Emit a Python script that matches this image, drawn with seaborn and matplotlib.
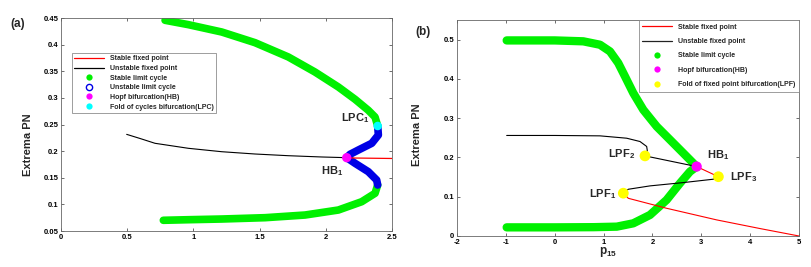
import numpy as np
import pandas as pd
import matplotlib
matplotlib.use("Agg")
import matplotlib.pyplot as plt
import seaborn as sns
from matplotlib.lines import Line2D

# ---------------- Panel (a) data ----------------
a_green_up_x = [0.786, 0.962, 1.214, 1.465, 1.717, 1.918, 2.095, 2.221, 2.321, 2.372, 2.392]
a_green_up_y = [0.4457, 0.4375, 0.4237, 0.4037, 0.3768, 0.3486, 0.3204, 0.2973, 0.2767, 0.264, 0.2472]
a_green_lo_x = [0.773, 0.962, 1.214, 1.541, 1.843, 2.095, 2.271, 2.372, 2.392]
a_green_lo_y = [0.0701, 0.0712, 0.0725, 0.075, 0.080, 0.0894, 0.105, 0.1208, 0.1364]
a_blue_up_x = [2.158, 2.183, 2.246, 2.347, 2.397, 2.392]
a_blue_up_y = [0.1877, 0.194, 0.2021, 0.2147, 0.2303, 0.2472]
a_blue_lo_x = [2.158, 2.221, 2.321, 2.384, 2.392]
a_blue_lo_y = [0.1877, 0.1771, 0.1614, 0.1458, 0.1364]
a_unst_x = [0.496, 0.60, 0.71, 0.962, 1.214, 1.465, 1.717, 1.969, 2.158]
a_unst_y = [0.2315, 0.2235, 0.2147, 0.2053, 0.1989, 0.1946, 0.1914, 0.189, 0.1877]
a_stab_x = [2.158, 2.5]
a_stab_y = [0.1872, 0.1862]
a_hb = (2.158, 0.1877)
a_lpc = (2.392, 0.2472)

# ---------------- Panel (b) data ----------------
b_green_up_x = [-0.983, 0.0, 0.585, 0.927, 1.131, 1.30, 1.438, 1.608, 1.813, 2.087, 2.36, 2.632, 2.836, 2.905]
b_green_up_y = [0.498, 0.498, 0.4957, 0.487, 0.470, 0.4405, 0.4065, 0.364, 0.3214, 0.279, 0.245, 0.211, 0.1854, 0.1768]
b_green_lo_x = [-0.983, 0.0, 0.80, 1.27, 1.608, 1.95, 2.29, 2.564, 2.769, 2.905]
b_green_lo_y = [0.022, 0.022, 0.0225, 0.0238, 0.0323, 0.0536, 0.0918, 0.1344, 0.164, 0.1768]
b_unst1_x = [-0.983, 0.0, 0.927, 1.473, 1.745, 1.882, 1.895, 1.848]
b_unst1_y = [0.256, 0.256, 0.255, 0.249, 0.2406, 0.228, 0.2177, 0.204]
b_unst2_x = [1.848, 2.905]
b_unst2_y = [0.204, 0.1768]
b_stab1_x = [2.905, 3.35]
b_stab1_y = [0.1768, 0.151]
b_unst3_x = [3.35, 3.246, 2.632, 1.95, 1.506, 1.404]
b_unst3_y = [0.151, 0.1446, 0.136, 0.1276, 0.119, 0.109]
b_stab2_x = [1.404, 1.506, 2.29, 3.315, 4.2, 5.0]
b_stab2_y = [0.109, 0.096, 0.0706, 0.041, 0.019, 0.0]
b_hb = (2.905, 0.1768)
b_lpf_x = [1.404, 1.848, 3.35]
b_lpf_y = [0.109, 0.204, 0.151]

GREEN = "#00f000"
BLUE = "#0000e6"
MAG = "#ff00ff"
CYAN = "#00ffff"
YEL = "#ffff00"
RED = "#ff0000"

sns.set_style("ticks")
plt.rcParams["font.family"] = ["Liberation Sans", "DejaVu Sans"]
plt.rcParams["font.weight"] = "bold"
plt.rcParams["mathtext.fontset"] = "custom"
plt.rcParams["mathtext.rm"] = "Liberation Sans"
plt.rcParams["mathtext.bf"] = "Liberation Sans:bold"
plt.rcParams["mathtext.it"] = "Liberation Sans:italic"

fig = plt.figure(figsize=(8.12, 2.67), dpi=100)
axa = fig.add_axes([61/812, 1-231/267, 331/812, 213/267])
axb = fig.add_axes([457/812, 1-236/267, 342/812, 216/267])


def line(ax, xs, ys, color, lw, z=2):
    df = pd.DataFrame({"x": xs, "y": ys})
    sns.lineplot(data=df, x="x", y="y", sort=False, estimator=None, ax=ax,
                 color=color, linewidth=lw, zorder=z, solid_capstyle="round",
                 solid_joinstyle="round")


def style(ax):
    for s in ax.spines.values():
        s.set_color("#666666")
        s.set_linewidth(0.6)
    ax.tick_params(direction="in", top=True, right=True, length=2.5, width=0.5,
                   labelsize=5.5, pad=2, colors="#333333", labelcolor="black")
    for lab in ax.get_xticklabels() + ax.get_yticklabels():
        lab.set_fontweight("bold")
    ax.set_xlabel("")
    ax.set_ylabel("")

# ---------- (a) ----------
line(axa, a_green_up_x, a_green_up_y, GREEN, 5.5)
line(axa, a_green_lo_x, a_green_lo_y, GREEN, 5.5)
line(axa, a_blue_up_x, a_blue_up_y, BLUE, 5.5)
line(axa, a_blue_lo_x, a_blue_lo_y, BLUE, 5.5)
line(axa, a_unst_x, a_unst_y, "black", 0.8)
line(axa, a_stab_x, a_stab_y, RED, 0.9)
sns.scatterplot(x=[a_hb[0]], y=[a_hb[1]], ax=axa, color=MAG, s=45, edgecolor="none", zorder=5)
sns.scatterplot(x=[a_lpc[0]], y=[a_lpc[1]], ax=axa, color=CYAN, s=38, edgecolor="none", zorder=5)
axa.set_xlim(0, 2.5)
axa.set_ylim(0.05, 0.45)
axa.set_xticks([0, 0.5, 1, 1.5, 2, 2.5])
axa.set_xticklabels(["0", "0.5", "1", "1.5", "2", "2.5"])
axa.set_yticks([0.05, 0.1, 0.15, 0.2, 0.25, 0.3, 0.35, 0.4, 0.45])
axa.set_yticklabels(["0.05", "0.1", "0.15", "0.2", "0.25", "0.3", "0.35", "0.4", "0.45"])
style(axa)
axa.text(2.22, 0.262, r"$\mathbf{LPC_1}$", fontsize=8, ha="center", va="center")
axa.text(2.05, 0.163, r"$\mathbf{HB_1}$", fontsize=8, ha="center", va="center")
fig.text(28/812, 1-145/267, "Extrema PN", rotation=90, fontsize=8, fontweight="bold",
         ha="center", va="center")
fig.text(18/812, 1-24/267, "(a)", fontsize=8.5, fontweight="bold", ha="center", va="center")

handles_a = [
    Line2D([], [], color=RED, lw=0.9),
    Line2D([], [], color="black", lw=0.9),
    Line2D([], [], color=GREEN, marker="o", ls="none", ms=4.5, mec="none"),
    Line2D([], [], color=BLUE, marker="o", ls="none", ms=4.5, mfc="white", mew=1.0),
    Line2D([], [], color=MAG, marker="o", ls="none", ms=4.5, mec="none"),
    Line2D([], [], color=CYAN, marker="o", ls="none", ms=4.5, mec="none"),
]
labels_a = ["Stable fixed point", "Unstable fixed point", "Stable limit cycle",
            "Unstable limit cycle", "Hopf bifurcation(HB)", "Fold of cycles bifurcation(LPC)"]
leg = axa.legend(handles_a, labels_a, loc="upper left", bbox_to_anchor=(0.033, 0.836),
                 borderaxespad=0, prop={"weight": "bold", "size": 5},
                 frameon=True, fancybox=False, edgecolor="#777777", framealpha=1,
                 handlelength=4.3, labelspacing=0.38, borderpad=0.35, handletextpad=0.8)
leg.get_frame().set_linewidth(0.5)

# ---------- (b) ----------
line(axb, b_green_up_x, b_green_up_y, GREEN, 6)
line(axb, b_green_lo_x, b_green_lo_y, GREEN, 6)
line(axb, b_unst1_x, b_unst1_y, "black", 0.8, 3)
line(axb, b_unst2_x, b_unst2_y, "black", 0.8, 3)
line(axb, b_unst3_x, b_unst3_y, "black", 0.8, 3)
line(axb, b_stab1_x, b_stab1_y, RED, 0.8, 3)
line(axb, b_stab2_x, b_stab2_y, RED, 0.8, 3)
sns.scatterplot(x=[b_hb[0]], y=[b_hb[1]], ax=axb, color=MAG, s=55, edgecolor="none", zorder=5)
sns.scatterplot(x=b_lpf_x, y=b_lpf_y, ax=axb, color=YEL, s=60, edgecolor="none", zorder=5)
axb.set_xlim(-2, 5)
axb.set_ylim(0, 0.55)
axb.set_xticks(list(range(-2, 6)))
axb.set_xticklabels([str(v) for v in range(-2, 6)])
axb.set_yticks([0, 0.1, 0.2, 0.3, 0.4, 0.5])
axb.set_yticklabels(["0", "0.1", "0.2", "0.3", "0.4", "0.5"])
style(axb)
axb.text(1.36, 0.208, r"$\mathbf{LPF_2}$", fontsize=8, ha="center", va="center")
axb.text(3.35, 0.205, r"$\mathbf{HB_1}$", fontsize=8, ha="center", va="center")
axb.text(3.58, 0.151, r"$\mathbf{LPF_3}$", fontsize=8, ha="left", va="center")
axb.text(0.99, 0.107, r"$\mathbf{LPF_1}$", fontsize=8, ha="center", va="center")
fig.text(417/812, 1-135/267, "Extrema PN", rotation=90, fontsize=8, fontweight="bold",
         ha="center", va="center")
fig.text(423/812, 1-32/267, "(b)", fontsize=8.5, fontweight="bold", ha="center", va="center")
fig.text(608/812, 1-252/267, r"$\mathbf{p_{15}}$", fontsize=8.5, ha="center", va="center")

handles_b = [
    Line2D([], [], color=RED, lw=0.9),
    Line2D([], [], color="#222222", lw=0.9),
    Line2D([], [], color=GREEN, marker="o", ls="none", ms=4.5, mec="none"),
    Line2D([], [], color=MAG, marker="o", ls="none", ms=4.5, mec="none"),
    Line2D([], [], color=YEL, marker="o", ls="none", ms=4.5, mec="none"),
]
labels_b = ["Stable fixed point", "Unstable fixed point", "Stable limit cycle",
            "Hopf bifurcation(HB)", "Fold of fixed point bifurcation(LPF)"]
legb = axb.legend(handles_b, labels_b, loc="upper right", bbox_to_anchor=(1.0, 1.0),
                  borderaxespad=0, prop={"weight": "bold", "size": 5},
                  frameon=True, fancybox=False, edgecolor="#777777", framealpha=1,
                  handlelength=4.3, labelspacing=1.05, borderpad=0.55, handletextpad=0.8)
legb.get_frame().set_linewidth(0.5)

fig.savefig("out.png", dpi=100)
